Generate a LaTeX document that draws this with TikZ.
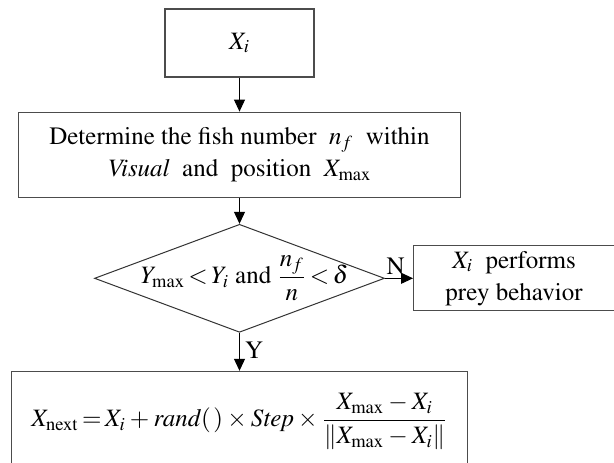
\documentclass[tikz,border=0pt]{standalone}
\usepackage{amsmath}
\usepackage[T1]{fontenc}
\usepackage{mathptmx}
\usepackage{tikz}
\usetikzlibrary{arrows.meta,positioning,shapes.geometric}

\begin{document}
\begin{tikzpicture}[
  x=0.5pt,y=-0.5pt,
  node distance=17pt and 14pt,
  every node/.style={font=\fontsize{12.5}{16}\selectfont},
  stage/.style={draw=black!70,line width=0.6pt,align=center,inner sep=2pt},
  decision/.style={diamond,draw=black!80,line width=0.5pt,inner sep=0pt,minimum width=145pt,minimum height=54pt},
  flow/.style={-{Triangle[length=6pt,width=5.5pt]},line width=0.5pt},
  tight/.style={execute at begin node={\thickmuskip=2.5mu\medmuskip=3mu}}
]
\useasboundingbox (0,0) rectangle (614,462);
\node[stage,minimum width=74.5pt,minimum height=34pt] (xi) at (239.5,43) {$X_i$};
\node[stage,below=of xi,minimum width=221pt,minimum height=42.5pt] (search) {Determine the fish number \ $n_f$ \ within\\ \textit{Visual} \ and \ position \ $X_{\mathrm{max}}$};
\draw[flow] (xi) -- (search);
\node[decision,below=13pt of search,label={[tight,xshift=2.5pt]center:{$Y_{\mathrm{max}}<Y_i$ and $\dfrac{n_f}{n}<\delta$}}] (crowd) {};
\draw[flow] (search) -- (crowd);
\node[stage,right=of crowd,minimum width=100.5pt,minimum height=32.5pt] (prey) {$X_i$ \ performs\\prey behavior};
\draw[flow] (crowd) -- node[pos=0,anchor=base west,yshift=2pt,inner sep=0.5pt] {N} (prey);
\node[stage,tight,below=19pt of crowd,minimum width=228pt,minimum height=50pt] (follow) {$X_{\mathrm{next}}=X_i+\mathit{rand}(\,)\times\mathit{Step}\times\dfrac{X_{\mathrm{max}}-X_i}{\left\|X_{\mathrm{max}}-X_i\right\|}$};
\draw[flow] (crowd) -- node[pos=0.45,right,inner sep=2.5pt] {Y} (follow);
\end{tikzpicture}
\end{document}
